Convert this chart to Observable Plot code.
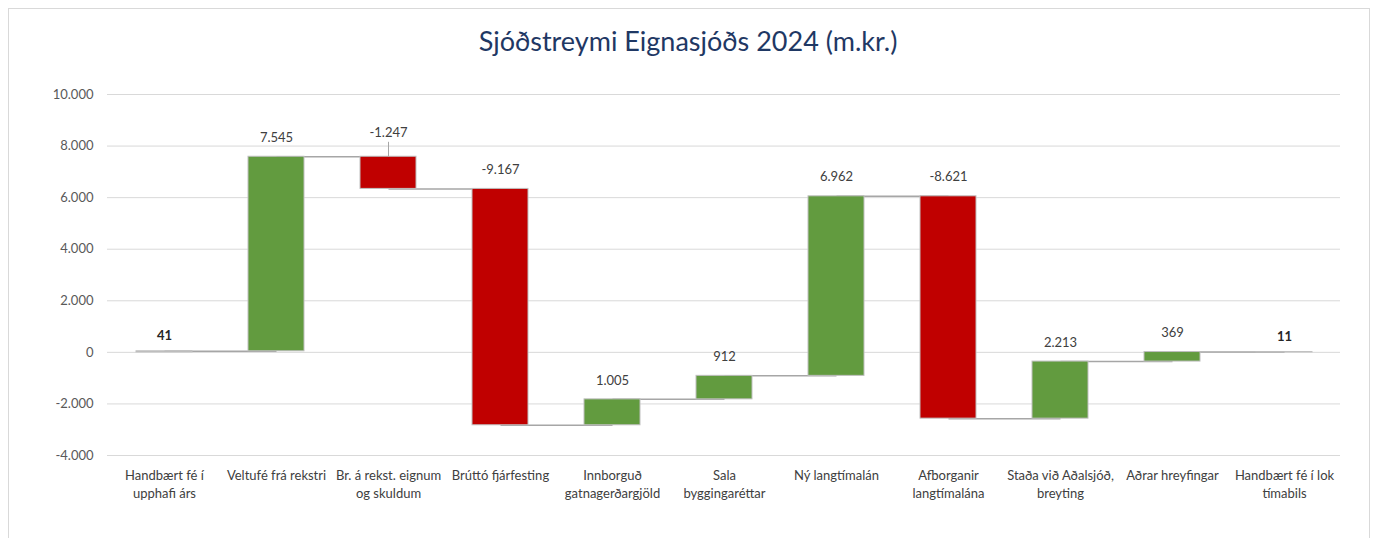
<!DOCTYPE html>
<html><head><meta charset="utf-8">
<script src="https://cdn.jsdelivr.net/npm/d3@7"></script>
<script src="https://cdn.jsdelivr.net/npm/@observablehq/plot@0.6"></script>
<style>
body{margin:0;background:#fff;font-family:Lato,sans-serif;}
#wrap{position:relative;width:1376px;height:538px;overflow:hidden;background:#fff;}
#frame{position:absolute;left:8px;top:8px;width:1362px;height:545px;border:1px solid #D9D9D9;box-sizing:border-box;}
#title{position:absolute;top:24px;left:0;width:1376px;text-align:center;font-size:27px;color:#1F3864;font-family:Lato,sans-serif;}
#chart{position:absolute;left:0;top:0;}
</style></head><body>
<div id="wrap"><div id="frame"></div><div id="title">Sjóðstreymi Eignasjóðs 2024 (m.kr.)</div><div id="chart"></div></div>
<script>
const categories = [
  "Handbært fé í\nupphafi árs",
  "Veltufé frá rekstri",
  "Br. á rekst. eignum\nog skuldum",
  "Brúttó fjárfesting",
  "Innborguð\ngatnagerðargjöld",
  "Sala\nbyggingaréttar",
  "Ný langtímalán",
  "Afborganir\nlangtímalána",
  "Staða við Aðalsjóð,\nbreyting",
  "Aðrar hreyfingar",
  "Handbært fé í lok\ntímabils"
];
const values = [41, 7545, -1247, -9167, 1005, 912, 6962, -8621, 2213, 369, 11];
const kinds = ["total","delta","delta","delta","delta","delta","delta","delta","delta","delta","total"];
const yTicks = [-4000, -2000, 0, 2000, 4000, 6000, 8000, 10000];

const locale = d3.formatLocale({decimal: ",", thousands: ".", grouping: [3], currency: ["", ""], minus: "-"});
const fmt = locale.format(",d");

let run = 0;
const rows = categories.map((cat, i) => {
  const v = values[i];
  let y1, y2;
  if (kinds[i] === "total") { y1 = 0; y2 = v; run = v; }
  else { y1 = run; y2 = run + v; run = y2; }
  return {cat, value: v, kind: kinds[i], y1, y2, end: y2, top: Math.max(y1, y2), label: fmt(v)};
});
const connectors = rows.slice(0, -1).map((r, i) => ({x1: r.cat, x2: rows[i + 1].cat, y: r.end}));
const fillFor = d => d.kind === "total" ? "#A5A5A5" : (d.value >= 0 ? "#629B3F" : "#C00000");

const leaderCat = categories[2];
const normalLabels = rows.filter(d => d.kind === "delta" && d.cat !== leaderCat);
const leaderLabels = rows.filter(d => d.cat === leaderCat);
const totalLabels = rows.filter(d => d.kind === "total");

const chart = Plot.plot({
  width: 1376,
  height: 538,
  marginLeft: 107,
  marginRight: 36,
  marginTop: 94,
  marginBottom: 83,
  style: {fontFamily: "Lato, sans-serif", background: "transparent", overflow: "visible"},
  x: {domain: categories, paddingInner: 0.5, paddingOuter: 0.25, label: null},
  y: {domain: [-4000, 10000], label: null},
  marks: [
    Plot.gridY(yTicks, {stroke: "#D9D9D9", strokeOpacity: 1}),
    Plot.axisY({ticks: yTicks, tickSize: 0, tickPadding: 14, tickFormat: fmt, fontSize: 13, fill: "#595959", label: null}),
    Plot.axisX({tickSize: 0, tickPadding: 12, fontSize: 13, lineHeight: 1.35, fill: "#404040", label: null}),
    Plot.link(connectors, {x1: "x1", x2: "x2", y1: "y", y2: "y", stroke: "#A6A6A6", strokeWidth: 1.5}),
    Plot.barY(rows, {x: "cat", y1: "y1", y2: "y2", fill: fillFor, stroke: "#BFBFBF", strokeWidth: 1}),
    Plot.ruleX(leaderLabels, {x: "cat", y1: "top", y2: d => d.top + 560, stroke: "#A6A6A6"}),
    Plot.text(normalLabels, {x: "cat", y: "top", text: "label", dy: -19, fontSize: 13, fill: "#404040"}),
    Plot.text(leaderLabels, {x: "cat", y: "top", text: "label", dy: -24, fontSize: 13, fill: "#404040"}),
    Plot.text(totalLabels, {x: "cat", y: "top", text: "label", dy: -15, fontSize: 13, fontWeight: "bold", fill: "#262626"})
  ]
});
document.getElementById("chart").appendChild(chart);
</script>
</body></html>
